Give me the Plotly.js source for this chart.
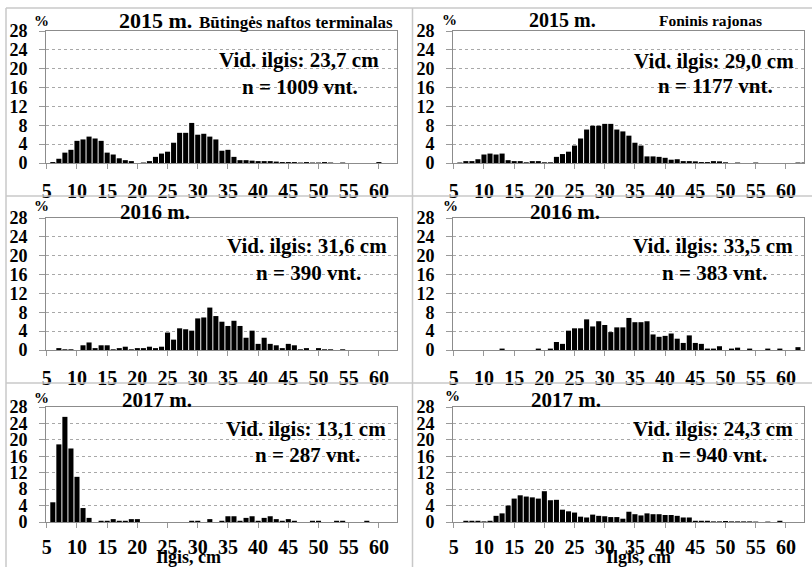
<!DOCTYPE html>
<html>
<head>
<meta charset="utf-8">
<script src="https://cdn.plot.ly/plotly-3.0.1.min.js"></script>
<style>html,body{margin:0;padding:0;background:#fff;}#chart{width:812px;height:567px;}</style>
</head>
<body>
<div id="chart"></div>
<script>
// Length classes, cm
var lengths = [5,6,7,8,9,10,11,12,13,14,15,16,17,18,19,20,21,22,23,24,25,26,27,28,29,30,31,32,33,34,35,36,37,38,39,40,41,42,43,44,45,46,47,48,49,50,51,52,53,54,55,56,57,58,59,60,61,62,63];
var xTickVals = [5,10,15,20,25,30,35,40,45,50,55,60];
var xTickText = ["5","10","15","20","25","30","35","40","45","50","55","60"];
var yTickVals = [0,4,8,12,16,20,24,28];
var yTickText = ["0","4","8","12","16","20","24","28"];

// Percent per length class
var butinge2015 = [0,0.2,0.9,2.2,2.8,4.7,5.0,5.6,5.2,4.7,2.2,1.8,1.0,0.6,0.4,0,0.1,0.4,1.3,2.0,2.4,4.3,6.4,6.4,8.5,6.0,6.2,5.6,5.0,2.6,2.8,1.3,0.6,0.6,0.5,0.4,0.4,0.4,0.3,0.2,0.2,0.2,0.1,0.2,0.1,0.1,0.2,0.1,0,0.1,0,0,0,0,0,0.2,0,0,0];
var foninis2015 = [0,0.1,0.4,0.4,0.8,1.8,2.0,1.8,2.0,0.6,0.4,0.4,0.15,0.4,0.4,0.15,0.15,1.3,1.9,2.4,3.7,5.2,7.1,7.9,7.9,8.3,8.3,7.1,6.7,5.8,4.3,3.7,1.4,1.4,1.3,1.1,0.7,0.8,0.4,0.4,0.35,0.2,0.2,0.4,0.35,0.15,0,0.1,0,0,0.1,0,0,0,0,0,0,0.1,0.1];
var butinge2016 = [0,0,0.4,0.15,0.15,0,1.0,1.6,0.4,1.0,1.0,0.15,0.4,0.7,0.15,0.4,0.4,0.7,0.4,0.7,3.7,2.2,4.6,4.4,4.1,6.7,6.9,9.0,7.2,6.0,5.1,6.2,5.1,2.6,4.1,1.3,2.6,1.3,1.0,0.4,1.3,1.0,0.15,0.4,0,0.4,0.15,0.15,0,0.15,0,0,0,0,0,0,0,0,0];
var foninis2016 = [0,0,0,0,0,0,0,0,0.3,0,0,0,0,0,0.3,0,0.3,1.7,1.3,4.1,4.6,4.6,6.5,5.0,6.1,5.3,3.8,4.8,4.8,6.8,5.9,5.9,6.1,3.3,2.8,3.0,3.5,2.4,1.5,3.1,1.5,1.3,0.3,0.3,0.8,0,0.3,0.5,0,0.3,0,0,0.3,0,0.3,0,0,0.6,0];
var butinge2017 = [0,4.8,18.9,25.6,17.9,11.0,3.4,1.0,0,0.3,0.3,0.7,0.3,0.3,0.7,0.7,0,0,0,0,0,0,0,0,0.3,0.3,0,0.7,0,0.3,1.4,1.4,0.3,1.0,1.4,0.3,1.0,1.4,0.7,0.3,0.7,0.3,0,0,0.3,0.3,0,0,0.3,0.3,0,0,0,0.3,0,0,0,0,0];
var foninis2017 = [0,0,0.3,0.3,0.3,0.15,0.3,1.5,2.1,4.0,5.7,6.5,6.2,6.0,5.7,7.5,5.3,5.4,3.0,2.6,2.3,1.3,1.1,1.8,1.5,1.4,1.2,1.2,0.8,2.5,1.9,1.6,2.1,1.9,1.9,1.7,1.7,1.5,1.1,1.1,0.3,0.3,0.3,0.15,0.15,0.25,0.15,0.15,0.15,0.15,0.1,0,0.1,0,0.3,0,0,0,0];

var panelYears = ["2015 m.","2015 m.","2016 m.","2016 m.","2017 m.","2017 m."];
var siteNames = ["Būtingės naftos terminalas","Foninis rajonas"];
var meanLengths = ["Vid. ilgis: 23,7 cm","Vid. ilgis: 29,0 cm","Vid. ilgis: 31,6 cm","Vid. ilgis: 33,5 cm","Vid. ilgis: 13,1 cm","Vid. ilgis: 24,3 cm"];
var sampleSizes = ["n = 1009 vnt.","n = 1177 vnt.","n = 390 vnt.","n = 383 vnt.","n = 287 vnt.","n = 940 vnt."];
var xTitle = "Ilgis, cm";
var yUnit = "%";

var series = [butinge2015, foninis2015, butinge2016, foninis2016, butinge2017, foninis2017];

var W = 812, H = 567;
function px(x){return x/W;}
function py(y){return 1 - y/H;}
function bold(arr){return arr.map(function(s){return "<b>" + s + "</b>";});}

// plot areas in pixels [left,right] / [top,bottom]
var colX = [[46,397],[453,804]];
var rowY = [[31,163],[218,350],[407,522]];

var FONT = "Liberation Serif";
var data = [];
var layout = {
  width: W, height: H,
  margin: {l:0,r:0,t:0,b:0},
  paper_bgcolor: "#fff", plot_bgcolor: "#fff",
  showlegend: false,
  font: {family: FONT, color: "#000"},
  annotations: [], shapes: []
};

for (var i = 0; i < 6; i++) {
  var r = Math.floor(i/2), c = i % 2;
  var xa = "xaxis" + (i+1), ya = "yaxis" + (i+1);
  data.push({
    type: "bar", x: lengths, y: series[i],
    xaxis: "x" + (i+1), yaxis: "y" + (i+1),
    width: 0.84,
    marker: {color: "#000", line: {width: 0}},
    hoverinfo: "x+y"
  });
  layout[xa] = {
    domain: [px(colX[c][0]), px(colX[c][1])],
    anchor: "y" + (i+1),
    range: [4.87, 63],
    tickmode: "array", tickvals: xTickVals, ticktext: bold(xTickText),
    ticks: "outside", ticklen: 5, tickcolor: "#999", tickwidth: 1,
    ticklabelstandoff: (r === 2 ? 2 : 5),
    showline: true, linecolor: "#8c8c8c", linewidth: 1, mirror: true,
    showgrid: false, zeroline: false,
    tickfont: {family: FONT, size: 20, color: "#000"},
    fixedrange: true
  };
  layout[ya] = {
    domain: [py(rowY[r][1]), py(rowY[r][0])],
    anchor: "x" + (i+1),
    range: [0, 28],
    tickmode: "array", tickvals: yTickVals, ticktext: bold(yTickText),
    ticks: "outside", ticklen: 6, tickcolor: "#999", tickwidth: 1,
    ticklabelstandoff: 8,
    showline: true, linecolor: "#8c8c8c", linewidth: 1, mirror: true,
    showgrid: true, gridcolor: "#a8a8a8", griddash: "dot", gridwidth: 1,
    zeroline: false,
    tickfont: {family: FONT, size: 18, color: "#000"},
    fixedrange: true
  };
}

function ann(text, x, y, size, xanchor) {
  layout.annotations.push({
    text: "<b>" + text + "</b>", xref: "paper", yref: "paper",
    x: px(x), y: py(y), xanchor: xanchor || "center", yanchor: "middle",
    showarrow: false, font: {family: FONT, size: size, color: "#000"}
  });
}

// Year titles
var yearPos = [[155,20,22],[562,20,20],[155,212,21],[565,212,21],[157,400,21],[566,400,21]];
for (var i = 0; i < 6; i++) ann(panelYears[i], yearPos[i][0], yearPos[i][1], yearPos[i][2]);
ann(siteNames[0], 296, 22, 17);
ann(siteNames[1], 710, 21, 15.5);

// Stats
var statPos = [[299,60,87],[714,61,86],[307,246,273],[713,246,273],[306,429,455],[713,429,455]];
for (var i = 0; i < 6; i++) {
  ann(meanLengths[i], statPos[i][0], statPos[i][1], 21);
  ann(sampleSizes[i], statPos[i][0] + 1, statPos[i][2], 21);
}

// % units
var pctPos = [[41,21],[449,20],[41,206],[450,206],[41,398],[452,396]];
for (var i = 0; i < 6; i++) ann(yUnit, pctPos[i][0], pctPos[i][1], 15);

// x titles
ann(xTitle, 188, 557, 18);
ann(xTitle, 638, 557, 18);

// panel frames
function line(x0,y0,x1,y1){
  layout.shapes.push({type:"line", xref:"paper", yref:"paper",
    x0:px(x0), y0:py(y0), x1:px(x1), y1:py(y1),
    line:{color:"#c8c8c8", width:1.5}});
}
line(6,8,812,8);
line(6,196,812,196);
line(6,383,812,383);
line(6,8,6,567);
line(412.5,8,412.5,567);

Plotly.newPlot("chart", data, layout, {staticPlot: true, displayModeBar: false});
</script>
</body>
</html>
